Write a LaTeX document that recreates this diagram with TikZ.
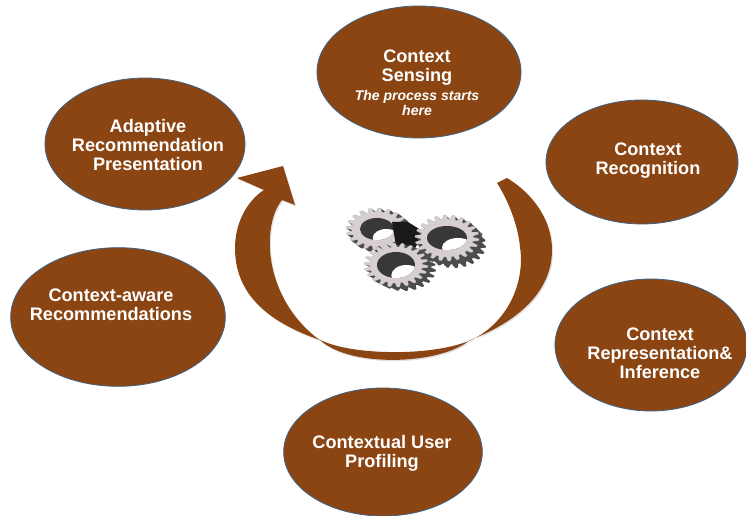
\documentclass[tikz,border=0pt]{standalone}
\usepackage{fontspec}
\setmainfont{Liberation Sans}
\usetikzlibrary{shapes.geometric}
\definecolor{brownfill}{HTML}{8B4513}
\definecolor{edgeblue}{HTML}{3E6285}
\definecolor{steel}{HTML}{D6CED2}
\tikzset{
  x=0.75pt,y=-0.75pt,
  stage/.style={ellipse,draw=edgeblue,line width=0.6pt,fill=brownfill,inner sep=0pt},
  caption/.style={text=white,font=\bfseries\fontsize{13.6}{14.2}\selectfont,align=center,inner sep=0pt},
  note/.style={text=white,font=\bfseries\itshape\fontsize{10.5}{12}\selectfont,align=center,inner sep=0pt},
}
\newcommand{\gearplot}[6]{% cx cy rx ry teeth style
  \path[#6] plot[samples=361,domain=0:360,variable=\t]
    ({#1+#3*cos(\t)*(0.91+0.09*max(-1,min(1,1.6*sin(#5*\t))))},
     {#2+#4*sin(\t)*(0.91+0.09*max(-1,min(1,1.6*sin(#5*\t))))}) -- cycle;
}
% cx cy rx ry teeth shiftx shifty holerx holery
\newcommand{\fullgear}[9]{%
  \foreach \s in {1,0.75,0.5,0.25}{
    \gearplot{#1+\s*#6}{#2+\s*#7}{#3}{#4}{#5}{fill=black!70}
  }
  \gearplot{#1}{#2}{#3}{#4}{#5}{fill=steel,draw=gray!60,line width=0.15pt}
  \begin{scope}
    \clip (#1,#2) ellipse[x radius=#8,y radius=#9];
    \fill[black!78] (#1-#3,#2-#4) rectangle (#1+#3,#2+#4);
    \fill[white] (#1+0.55*#8,#2+0.8*#9) ellipse[x radius=0.8*#8,y radius=0.8*#9];
  \end{scope}
}
\begin{document}
\begin{tikzpicture}
\useasboundingbox (0,0) rectangle (746,516);
\fill[white] (0,0) rectangle (746,516);
\clip (0,0) rectangle (746,516);

\node[stage,minimum width=153pt,minimum height=99pt] (sensing) at (419,72) {};
\node[stage,minimum width=144pt,minimum height=93pt] (recog) at (642,162) {};
\node[stage,minimum width=144pt,minimum height=99pt] (repr) at (651,345) {};
\node[stage,minimum width=149pt,minimum height=96pt] (profile) at (383,452) {};
\node[stage,minimum width=161pt,minimum height=104pt] (aware) at (118,317) {};
\node[stage,minimum width=150pt,minimum height=99pt] (adaptive) at (145,144) {};

\node[caption] (sensingT) at (417,68) {Context\\Sensing};
\node[note] (sensingN) at (417,103) {The process starts\\here};
\node[caption] (recogT) at (648,161) {Context\\Recognition};
\node[caption] (reprT) at (660,353) {Context\\Representation\&\\Inference};
\node[caption] (profileT) at (382,453) {Contextual User\\Profiling};
\node[caption] (awareT) at (111,305) {Context-aware\\Recommendations};
\node[caption] (adaptiveT) at (148,145) {Adaptive\\Recommendation\\Presentation};

% swoosh arrow
\def\swoosh{(283,166) -- (295,205) -- (282,200)
  .. controls (262,224) and (262,295) .. (317,338)
  .. controls (345,356) and (440,358) .. (477,337)
  .. controls (510,318) and (525,280) .. (520,247)
  .. controls (518,225) and (508,200) .. (497,183)
  -- (507,178)
  .. controls (535,195) and (552,222) .. (552,250)
  .. controls (552,295) and (512,324) .. (470,340)
  .. controls (440,365) and (350,368) .. (320,340)
  .. controls (262,320) and (235,290) .. (235,248)
  .. controls (235,222) and (248,200) .. (264,190)
  -- (237,178) -- cycle}
\fill[black!12,xshift=0.8pt,yshift=-1pt] \swoosh;
\fill[brownfill] \swoosh;

% gears
\fullgear{377}{229}{31}{21}{20}{4}{3}{17}{11}
\fill[black!90] (392,222) -- (408,222) -- (424,232) -- (414,250) -- (396,246) -- cycle;
\fullgear{447}{238}{32}{23}{22}{7}{7}{20}{12}
\fullgear{396}{265}{32}{22}{22}{8}{4}{19}{13}
\end{tikzpicture}
\end{document}
